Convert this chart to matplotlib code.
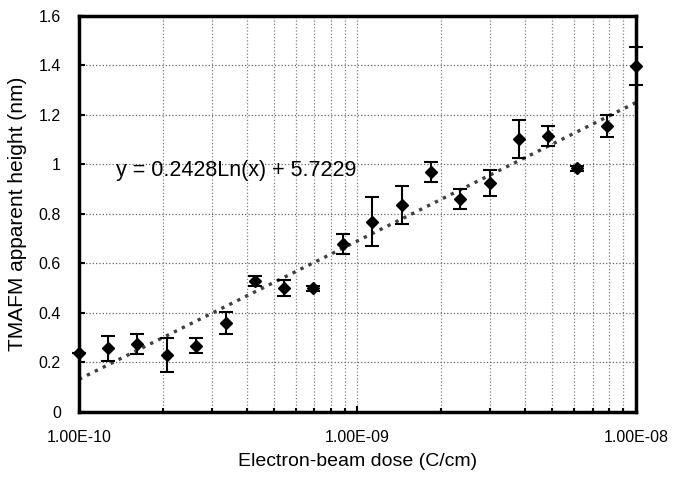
import numpy as np
import matplotlib
matplotlib.use("Agg")
import matplotlib.pyplot as plt
from matplotlib.ticker import FixedLocator, LogLocator, NullFormatter, FuncFormatter

plt.rcParams["font.family"] = ["Liberation Sans", "DejaVu Sans"]

# electron-beam dose (C/cm)
dose = [1.00e-10, 1.27e-10, 1.62e-10, 2.07e-10, 2.64e-10, 3.36e-10, 4.28e-10,
        5.46e-10, 6.95e-10, 8.86e-10, 1.13e-9, 1.44e-9, 1.83e-9, 2.34e-9,
        2.98e-9, 3.79e-9, 4.83e-9, 6.16e-9, 7.85e-9, 1.00e-8]
# apparent height (nm)
height = [0.24, 0.257, 0.275, 0.23, 0.267, 0.361, 0.529, 0.502, 0.50, 0.68,
          0.769, 0.836, 0.971, 0.859, 0.926, 1.102, 1.115, 0.985, 1.157, 1.398]
err = [0.0, 0.05, 0.04, 0.067, 0.03, 0.044, 0.02, 0.033, 0.01, 0.04,
       0.10, 0.077, 0.04, 0.04, 0.053, 0.076, 0.042, 0.01, 0.044, 0.077]

# logarithmic trendline shown on the chart
fit_a, fit_b = 0.2428, 5.7229
fit_label = "y = 0.2428Ln(x) + 5.7229"

fig = plt.figure(figsize=(6.73, 4.80), dpi=100)
ax = fig.add_axes([0.1174, 0.1417, 0.8276, 0.825])

xs = np.logspace(-10, -8, 200)
ax.plot(xs, fit_a * np.log(xs) + fit_b, ls=":", color="0.25", lw=2.4, zorder=2)

ax.errorbar(dose, height, yerr=err, fmt="D", color="black", ms=6,
            ecolor="black", elinewidth=1.5, capsize=5, capthick=1.5, zorder=3,
            clip_on=False)

ax.text(1.36e-10, 0.974, fit_label, fontsize=15.5, va="center", ha="left")

ax.set_xscale("log")
ax.set_xlim(1e-10, 1e-8)
ax.set_ylim(0, 1.6)
ax.yaxis.set_major_locator(FixedLocator(np.arange(0, 1.61, 0.2)))
ax.yaxis.set_major_formatter(FuncFormatter(lambda v, p: f"{v:g}"))
ax.xaxis.set_major_locator(FixedLocator([1e-10, 1e-9, 1e-8]))
ax.xaxis.set_major_formatter(FuncFormatter(lambda v, p: f"{v:.2E}"))
ax.xaxis.set_minor_locator(LogLocator(base=10, subs=np.arange(2, 10)))
ax.xaxis.set_minor_formatter(NullFormatter())

ax.grid(which="major", axis="y", ls=":", color="0.4", lw=0.9)
ax.grid(which="both", axis="x", ls=":", color="0.5", lw=0.9)

for s in ax.spines.values():
    s.set_linewidth(2.5)
ax.tick_params(axis="y", which="major", direction="in", length=4, width=1.5,
               labelsize=11.5, pad=13)
ax.tick_params(axis="x", which="major", direction="in", length=4, width=1.5,
               labelsize=11.5, pad=13)
ax.tick_params(axis="x", which="minor", direction="in", length=3, width=1.5)

ax.set_xlabel("Electron-beam dose (C/cm)", fontsize=14, labelpad=6)
ax.set_ylabel("TMAFM apparent height (nm)", fontsize=15, labelpad=8)

fig.savefig("out.png", dpi=100)
